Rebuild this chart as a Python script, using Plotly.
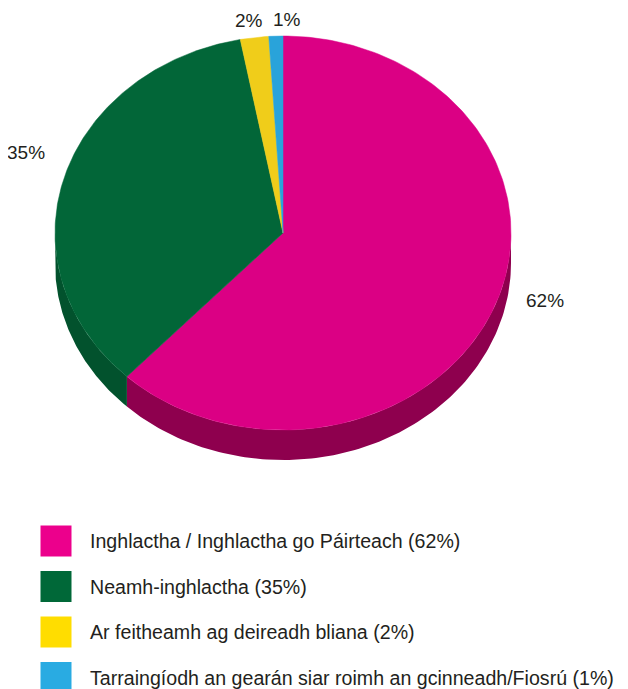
import numpy as np
import plotly.graph_objects as go

# data
categories = [
    "Inghlactha / Inghlactha go Páirteach",
    "Neamh-inghlactha",
    "Ar feitheamh ag deireadh bliana",
    "Tarraingíodh an gearán siar roimh an gcinneadh/Fiosrú",
]
shares = [62, 35, 2, 1]

# style
top_colors = ["#DB0084", "#026638", "#F0CD1A", "#29A3DA"]
side_colors = ["#8E004E", "#02522D", "#C0A010", "#1E7FAF"]
legend_colors = ["#EC008C", "#006838", "#FFDD00", "#29ABE2"]
text_color = "#231F20"
font_family = "Liberation Sans, Arial, sans-serif"

W, H = 628, 689
PAGE_OFF = 8  # browser body margin
cx, cy, rx, ry, depth = 283, 233, 228, 197, 30
label_nudge = [(13, -12), (0, -20), (0, 3), (12, 3)]


def ell(theta_deg, dy=0.0):
    t = np.radians(theta_deg)
    return cx + rx * np.sin(t), cy - ry * np.cos(t) + dy


fig = go.Figure()

total = sum(shares)
bounds = np.cumsum([0] + shares) / total * 360.0

# sides (front half only: 90..270 degrees)
for i in range(len(shares)):
    a0, a1 = max(bounds[i], 90), min(bounds[i + 1], 270)
    if a1 <= a0:
        continue
    th = np.linspace(a0, a1, 120)
    xt, yt = ell(th)
    xb, yb = ell(th[::-1], depth)
    fig.add_trace(go.Scatter(
        x=np.concatenate([xt, xb]), y=np.concatenate([yt, yb]),
        fill="toself", fillcolor=side_colors[i], mode="lines",
        line=dict(width=0), hoverinfo="skip", showlegend=False,
    ))

# top faces
for i in range(len(shares)):
    th = np.linspace(bounds[i], bounds[i + 1], 200)
    xa, ya = ell(th)
    fig.add_trace(go.Scatter(
        x=np.concatenate([[cx], xa, [cx]]), y=np.concatenate([[cy], ya, [cy]]),
        fill="toself", fillcolor=top_colors[i], mode="lines",
        line=dict(width=0.5, color=top_colors[i]),
        name=categories[i], showlegend=False,
    ))

# percentage labels
for i in range(len(shares)):
    mid = np.radians((bounds[i] + bounds[i + 1]) / 2)
    lx = cx + (rx + 40) * np.sin(mid) + label_nudge[i][0]
    ly = cy - (ry + 20) * np.cos(mid) + label_nudge[i][1]
    fig.add_annotation(x=lx, y=ly, text=f"{shares[i]}%", showarrow=False,
                       font=dict(size=19, color=text_color, family=font_family))

# legend
leg_y = [541 + 45.5 * i for i in range(len(categories))]
fig.add_trace(go.Scatter(
    x=[56] * len(categories), y=leg_y, mode="markers",
    marker=dict(symbol="square", size=31, color=legend_colors, line=dict(width=0)),
    hoverinfo="skip", showlegend=False,
))
for i, cat in enumerate(categories):
    fig.add_annotation(x=88, y=leg_y[i], xanchor="left", text=f"{cat} ({shares[i]}%)",
                       showarrow=False,
                       font=dict(size=19.6, color=text_color, family=font_family))

fig.update_layout(
    width=W, height=H,
    margin=dict(l=0, r=0, t=0, b=0),
    paper_bgcolor="white", plot_bgcolor="white",
    xaxis=dict(range=[PAGE_OFF, W + PAGE_OFF], visible=False, fixedrange=True),
    yaxis=dict(range=[H + PAGE_OFF, PAGE_OFF], visible=False, fixedrange=True),
)

fig.write_html("out.html")
